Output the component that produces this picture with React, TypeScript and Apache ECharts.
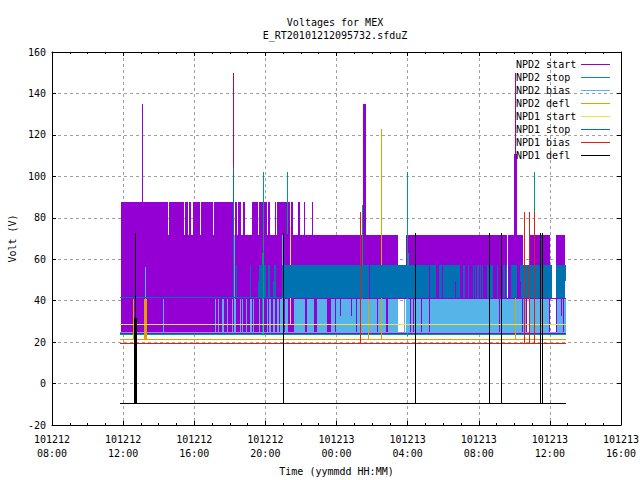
import React, { useEffect, useRef } from "react";
import * as echarts from "echarts";

type Span = [number, number];
type Row = [number, number, number, number];

const tickDates = ["101212", "101212", "101212", "101212", "101213", "101213", "101213", "101213", "101213"];
const tickTimes = ["08:00", "12:00", "16:00", "20:00", "00:00", "04:00", "08:00", "12:00", "16:00"];
const seriesNames = ["NPD2 start", "NPD2 stop", "NPD2 bias", "NPD2 defl", "NPD1 start", "NPD1 stop", "NPD1 bias", "NPD1 defl"];
const seriesColors = ["#9400d3", "#009e73", "#56b4e9", "#e69f00", "#f0e442", "#0072b2", "#e51e10", "#000000"];

const startH = 3.82;
const endH = 28.91;

// NPD2 start: upper level 72..88
const npd2StartUpper: Span[] = [[3.88, 6.52], [6.58, 7.42], [7.48, 7.65], [7.7, 7.82], [7.93, 8.32], [8.38, 9.05], [9.11, 10.24], [10.29, 10.4], [10.46, 10.63], [10.74, 10.85], [11.25, 11.59], [11.64, 12.09], [12.15, 12.26], [12.54, 12.6], [12.65, 13.39], [13.44, 13.55], [13.84, 13.95], [14.17, 14.23], [14.62, 14.68]];
// NPD2 start: main level 25..72
const npd2StartMain: Span[] = [[3.88, 19.46], [19.91, 25.59], [25.65, 26.49], [26.83, 28.01], [28.34, 28.85]];
const npd2StartSpikes: Row[] = [[5.06, 5.06, 71, 134.8], [10.18, 10.18, 71, 150], [17.49, 17.66, 71, 134.8], [25.98, 26.15, 71, 111], [26.04, 26.04, 111, 150], [26.66, 26.66, 25, 41]];
const npd2StartLines: Row[] = [[startH, endH, 24.4, 24.4], [3.88, 28.91, 41.3, 41.3]];

// NPD2 stop
const npd2StopRows: Row[] = [[startH, endH, 23.9, 23.9], [11.87, 11.87, 24, 102], [11.81, 11.87, 24, 63], [13.22, 13.22, 72, 102], [17.43, 17.43, 24, 86], [19.96, 19.96, 23, 102], [20.02, 20.02, 57, 63], [27.11, 27.11, 72, 102]];

// NPD2 bias: level 25..41
const npd2BiasSpans: Span[] = [[6.24, 6.24], [9.17, 9.17], [9.34, 9.34], [9.56, 9.67], [9.84, 9.84], [10.12, 10.12], [10.24, 10.35], [10.57, 10.57], [10.69, 10.69], [10.91, 10.91], [11.14, 11.25], [11.3, 11.3], [11.64, 11.64], [11.87, 11.87], [12.09, 12.09], [12.2, 12.32], [12.43, 12.54], [12.65, 12.77], [12.82, 12.99], [13.1, 13.27], [13.61, 14.23], [14.34, 14.73], [14.9, 15.47], [15.69, 15.92], [15.97, 16.2], [16.25, 16.82], [16.87, 17.1], [17.15, 18.28], [18.33, 18.78], [18.9, 19.46], [19.8, 19.85], [19.91, 20.13], [20.19, 20.3], [20.36, 20.75], [20.81, 21.2], [21.26, 25.14], [25.2, 26.43], [26.49, 26.66], [26.83, 27.95], [28.4, 28.63], [28.68, 28.74], [28.79, 28.91]];
const npd2BiasExtra: Row[] = [[startH, endH, 24.9, 24.9], [5.23, 5.23, 41, 56.3], [10.24, 10.24, 41, 71.7], [12.94, 12.94, 41, 71.7], [16.2, 16.25, 25, 32.6], [16.82, 16.87, 25, 32.6], [28.63, 28.68, 25, 32.6]];

// NPD2 defl
const npd2DeflRows: Row[] = [[startH, endH, 21.5, 21.5], [4.56, 4.56, 21.5, 41], [5.17, 5.34, 21.5, 41], [17.77, 17.77, 21.5, 41], [18.5, 18.5, 21.5, 123], [26.04, 26.04, 21.5, 41.5]];

// NPD1 start
const npd1StartRows: Row[] = [[startH, endH, 28.7, 28.7], [13.39, 13.39, 28.7, 75.5]];

// NPD1 stop: level 41..57
const npd1StopSpans: Span[] = [[10.35, 10.4], [11.14, 11.19], [11.64, 11.87], [11.92, 12.04], [12.15, 12.26], [12.49, 12.6], [12.94, 17.83], [17.88, 21.2], [21.26, 21.6], [21.76, 21.93], [21.99, 22.66], [22.72, 22.95], [23.11, 23.23], [23.4, 23.45], [23.68, 23.73], [23.79, 23.85], [23.9, 24.01], [24.07, 24.13], [24.18, 24.24], [24.46, 24.8], [25.03, 25.08], [25.36, 25.48], [25.53, 25.59], [25.81, 25.87], [25.87, 26.15], [26.38, 28.12], [28.34, 28.85]];
const npd1StopExtra: Row[] = [[startH, 12.94, 41.8, 41.8], [10.18, 10.18, 41.3, 104.5], [11.59, 11.64, 41.3, 49.5], [12.43, 12.49, 41.3, 49.5], [22.66, 22.72, 49.5, 57.2], [26.32, 26.38, 49.5, 57.2], [28.85, 28.91, 49.5, 57.2]];

// NPD1 bias
const npd1BiasRows: Row[] = [[startH, endH, 19.6, 19.6], [17.32, 17.32, 19.6, 82.6], [26.55, 26.55, 19.6, 82.6], [26.83, 26.83, 19.6, 82.6], [27.11, 27.11, 19.6, 82.6]];

// NPD1 defl
const npd1DeflRows: Row[] = [[startH, endH, -9.4, -9.4], [4.61, 4.78, -9.4, 31.8], [4.67, 4.67, 31.8, 72.6], [12.99, 12.99, -9.4, 72.6], [20.41, 20.41, -9.4, 72.6], [24.58, 24.58, -9.4, 72.6], [25.25, 25.25, -9.4, 72.6], [27.44, 27.44, -9.4, 72.6], [27.56, 27.56, -9.4, 72.6]];

const level = (spans: Span[], lo: number, hi: number): Row[] => spans.map(([a, b]) => [a, b, lo, hi]);

const seriesData: Row[][] = [
  [...level(npd2StartMain, 24.9, 71.7), ...level(npd2StartUpper, 71.7, 87.6), ...npd2StartSpikes, ...npd2StartLines],
  npd2StopRows,
  [...level(npd2BiasSpans, 24.9, 40.8), ...npd2BiasExtra],
  npd2DeflRows,
  npd1StartRows,
  [...level(npd1StopSpans, 41.3, 57.2), ...npd1StopExtra],
  npd1BiasRows,
  npd1DeflRows,
];

const FONT = "DejaVu Sans Mono";
const textBase = { fontFamily: FONT, fontSize: 10, color: "#000" };
const grid = { lineStyle: { color: "#a0a0a0", type: [3, 3] as number[], width: 1 } };

function renderBlock(params: any, api: any) {
  const a = api.coord([api.value(0), api.value(2)]);
  const b = api.coord([api.value(1), api.value(3)]);
  const x = Math.round(a[0]);
  const y = Math.round(b[1]);
  return {
    type: "rect",
    shape: { x, y, width: Math.max(1, Math.round(b[0]) - x), height: Math.max(1, Math.round(a[1]) - y) },
    style: { fill: api.visual("color") },
  };
}

export default function App() {
  const ref = useRef<HTMLDivElement>(null);
  useEffect(() => {
    const chart = echarts.init(ref.current!, undefined, { renderer: "svg" });
    const xCommon = {
      type: "value",
      min: 0,
      max: 32,
      interval: 4,
      axisLine: { show: true, onZero: false, lineStyle: { color: "#000" } },
      axisTick: { inside: true, length: 4, lineStyle: { color: "#000" } },
      minorTick: { show: true, splitNumber: 4, length: 2, lineStyle: { color: "#000" } },
    };
    const yCommon = {
      type: "value",
      min: -20,
      max: 160,
      interval: 20,
      axisLine: { show: true, onZero: false, lineStyle: { color: "#000" } },
      axisTick: { inside: true, length: 4, lineStyle: { color: "#000" } },
    };
    chart.setOption({
      animation: false,
      backgroundColor: "#fff",
      title: {
        text: "Voltages for MEX\nE_RT20101212095732.sfduZ",
        left: 330,
        top: 11,
        textAlign: "center",
        textStyle: { ...textBase, fontWeight: "normal", lineHeight: 13 },
      },
      legend: {
        data: seriesNames,
        orient: "vertical",
        align: "right",
        right: 30,
        top: 59,
        itemWidth: 29,
        itemHeight: 1,
        itemGap: 2,
        icon: "rect",
        padding: 0,
        selectedMode: false,
        formatter: (name: string) => `{a|${name}}`,
        textStyle: {
          ...textBase,
          lineHeight: 11,
          rich: { a: { ...textBase, width: 60, align: "left", lineHeight: 11 } },
        },
      },
      grid: { left: 52, right: 19, top: 52, bottom: 55, outerBoundsMode: "none" },
      xAxis: [
        {
          ...xCommon,
          position: "bottom",
          name: "Time (yymmdd HH:MM)",
          nameLocation: "middle",
          nameGap: 41,
          nameTextStyle: textBase,
          splitLine: { show: true, ...grid },
          axisLabel: {
            ...textBase,
            margin: 7,
            lineHeight: 14,
            formatter: (v: number) => `${tickDates[v / 4]}\n${tickTimes[v / 4]}`,
          },
        },
        { ...xCommon, position: "top", axisLabel: { show: false }, splitLine: { show: false } },
      ],
      yAxis: [
        {
          ...yCommon,
          position: "left",
          name: "Volt (V)",
          nameLocation: "middle",
          nameGap: 35,
          nameTextStyle: textBase,
          splitLine: { show: true, ...grid },
          axisLabel: { ...textBase, margin: 6 },
        },
        { ...yCommon, position: "right", axisLabel: { show: false }, splitLine: { show: false } },
      ],
      series: seriesNames.map((name, i) => ({
        name,
        type: "custom",
        xAxisIndex: 0,
        yAxisIndex: 0,
        renderItem: renderBlock,
        clip: false,
        encode: { x: [0, 1], y: [2, 3] },
        itemStyle: { color: seriesColors[i] },
        data: seriesData[i],
      })),
    });
    return () => chart.dispose();
  }, []);
  return <div ref={ref} style={{ position: "fixed", left: 0, top: 0, width: 640, height: 480 }} />;
}
